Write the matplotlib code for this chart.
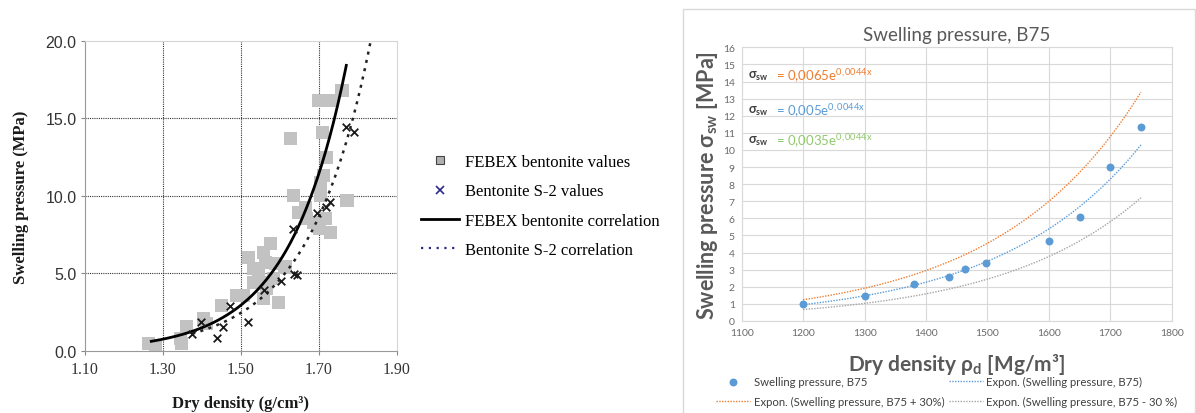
import numpy as np
import matplotlib.pyplot as plt
from matplotlib.lines import Line2D
from matplotlib.patches import Rectangle

# ---------------- left panel data: FEBEX and S-2 bentonite ----------------
febex_rho = [1.263, 1.281, 1.344, 1.348, 1.361, 1.404, 1.412, 1.451, 1.489, 1.506,
             1.519, 1.532, 1.532, 1.545, 1.558, 1.562, 1.575, 1.566, 1.583, 1.588,
             1.596, 1.613, 1.626, 1.635, 1.648, 1.665, 1.669, 1.686, 1.699, 1.703,
             1.701, 1.708, 1.712, 1.716, 1.720, 1.729, 1.733, 1.759, 1.772, 1.703,
             1.552, 1.558]
febex_p = [0.47, 0.26, 0.79, 0.47, 1.55, 2.08, 1.76, 2.94, 3.58, 3.58,
           6.05, 5.30, 4.44, 4.87, 6.37, 5.73, 6.91, 4.01, 4.66, 5.62,
           3.15, 5.41, 13.67, 10.02, 8.95, 9.27, 8.52, 8.30, 16.14, 10.02,
           7.88, 14.10, 11.31, 8.52, 12.49, 7.66, 16.14, 16.78, 9.70, 10.88,
           4.40, 3.37]

s2_rho = [1.374, 1.398, 1.438, 1.455, 1.472, 1.519, 1.558, 1.602, 1.633, 1.637,
          1.643, 1.696, 1.719, 1.729, 1.768, 1.790]
s2_p = [1.12, 1.87, 0.84, 1.55, 2.88, 1.87, 3.91, 4.48, 7.88, 4.98,
        4.87, 8.91, 9.31, 9.59, 14.42, 14.14]

# exponential correlations ln(Ps) = a * rho_d + b
febex_corr = (6.77, -9.07)
febex_corr_range = (1.27, 1.77)
s2_corr = (6.30, -8.55)
s2_corr_range = (1.375, 1.845)

left_xticks = [1.10, 1.30, 1.50, 1.70, 1.90]
left_yticks = [0.0, 5.0, 10.0, 15.0, 20.0]

# ---------------- right panel data: B75 ----------------
b75_rho = [1200, 1300, 1380, 1437, 1463, 1497, 1600, 1650, 1700, 1750]
b75_p = [1.00, 1.45, 2.15, 2.60, 3.05, 3.40, 4.70, 6.10, 9.00, 11.35]
band_factors = [1.0, 1.3, 0.7]
eq_coeffs = ["0,0065", "0,005", "0,0035"]
eq_exp = "0,0044x"

SERIF = "Liberation Serif"
SANS = "Liberation Sans"
XL = "Lato"

plt.rcParams["mathtext.fontset"] = "custom"
plt.rcParams["mathtext.rm"] = "Lato:bold"
plt.rcParams["mathtext.bf"] = "Lato:bold"
plt.rcParams["mathtext.sf"] = "Lato"
plt.rcParams["mathtext.it"] = "Lato:italic"

fig = plt.figure(figsize=(11.96, 4.14), dpi=100)
W, H = 1196.0, 414.0


def fax(x0, y0, x1, y1):
    return [x0 / W, 1 - y1 / H, (x1 - x0) / W, (y1 - y0) / H]


# ======================= left panel =======================
ax = fig.add_axes(fax(85, 41.7, 397, 352))
ax.set_xlim(1.10, 1.90)
ax.set_ylim(0, 20)

ax.scatter(febex_rho, febex_p, marker="s", s=90, color="#c2c2c2",
           edgecolors="none", zorder=2)
ax.scatter(s2_rho, s2_p, marker="x", s=30, color="#1a1a1a", linewidths=1.3,
           zorder=4)

r = np.linspace(*febex_corr_range, 200)
ax.plot(r, np.exp(febex_corr[0] * r + febex_corr[1]), color="black", lw=2.0,
        zorder=3)
r2 = np.linspace(*s2_corr_range, 200)
ax.plot(r2, np.exp(s2_corr[0] * r2 + s2_corr[1]), color="#222222", lw=1.8,
        linestyle=(0, (1.2, 2.2)), zorder=3)

ax.set_xticks(left_xticks)
ax.set_xticklabels([f"{v:.2f}" for v in left_xticks], fontfamily=SERIF,
                   fontsize=11.5, color="#333333")
ax.set_yticks(left_yticks)
ax.set_yticklabels([f"{v:.1f}" for v in left_yticks], fontfamily=SANS,
                   fontsize=11.5, color="#333333")
ax.tick_params(axis="both", length=3, color="#888888", pad=3)
ax.tick_params(axis="x", pad=4)
for t in left_xticks[1:-1]:
    ax.axvline(t, color="#333333", lw=0.8, linestyle=(0, (1, 1)), zorder=1)
for t in left_yticks[1:-1]:
    ax.axhline(t, color="#333333", lw=0.8, linestyle=(0, (1, 1)), zorder=1)
for s in ["left", "bottom"]:
    ax.spines[s].set_color("#999999")
    ax.spines[s].set_linewidth(0.8)
for s in ["top", "right"]:
    ax.spines[s].set_color("#d6d6d6")
    ax.spines[s].set_linewidth(0.8)

ax.set_xlabel("Dry density (g/cm³)", fontfamily=SERIF, fontweight="bold",
              fontsize=12, labelpad=13, color="#1a1a1a")
ax.set_ylabel("Swelling pressure (MPa)", fontfamily=SERIF, fontweight="bold",
              fontsize=12, labelpad=12, color="#1a1a1a")

left_handles = [
    Line2D([], [], marker="s", linestyle="none", markersize=6,
           markerfacecolor="#b0b0b0", markeredgecolor="#444444", markeredgewidth=0.8),
    Line2D([], [], marker="x", linestyle="none", markersize=6,
           color="#2a2a8a", markeredgewidth=1.2),
    Line2D([], [], color="black", lw=2.0),
    Line2D([], [], color="#2a2a8a", lw=1.6, linestyle=(0, (1, 2.5))),
]
left_labels = ["FEBEX bentonite values", "Bentonite S-2 values",
               "FEBEX bentonite correlation", "Bentonite S-2 correlation"]
fig.legend(left_handles, left_labels, loc="upper left",
           bbox_to_anchor=(421 / W, 1 - 155 / H), frameon=False,
           prop={"family": SERIF, "size": 12}, handlelength=2.3,
           handletextpad=0.35, labelspacing=0.8, borderpad=0,
           borderaxespad=0)

# ======================= right panel =======================
fig.add_artist(Rectangle((683 / W, -0.05), (1195 - 683) / W, 1 - 10 / H + 0.05,
                         transform=fig.transFigure, fill=False,
                         edgecolor="#d9d9d9", lw=1.0))

bx = fig.add_axes(fax(741.7, 48.3, 1171.7, 322))
bx.set_xlim(1100, 1800)
bx.set_ylim(0, 16)
bx.set_xticks(range(1100, 1801, 100))
bx.set_yticks(range(0, 17))
bx.grid(True, color="#d9d9d9", lw=0.8)
bx.set_axisbelow(True)
for s in bx.spines.values():
    s.set_color("#d9d9d9")
    s.set_linewidth(0.8)
bx.tick_params(axis="both", length=0, labelsize=7.5, labelcolor="#6a6a6a",
               pad=5)
for lab in bx.get_xticklabels() + bx.get_yticklabels():
    lab.set_fontfamily(XL)

coef = np.polyfit(b75_rho, np.log(b75_p), 1)
xr = np.linspace(min(b75_rho), max(b75_rho), 200)
trend = np.exp(np.polyval(coef, xr))
band_colors = ["#5b9bd5", "#ed7d31", "#a5a5a5"]
band_labels = ["Expon. (Swelling pressure, B75)",
               "Expon. (Swelling pressure, B75 + 30%)",
               "Expon. (Swelling pressure, B75 - 30 %)"]
band_lines = []
for f, c, lab in zip(band_factors, band_colors, band_labels):
    ln, = bx.plot(xr, f * trend, color=c, lw=1.0, linestyle=(0, (1, 1)),
                  label=lab)
    band_lines.append(ln)
pts = bx.scatter(b75_rho, b75_p, s=22, color="#5b9bd5", zorder=3,
                 label="Swelling pressure, B75")

bx.set_title("Swelling pressure, B75", fontfamily=XL, fontsize=13.5,
             color="#595959", pad=5)
bx.set_ylabel(r"Swelling pressure σ$_{\mathrm{sw}}$ [MPa]", fontfamily=[XL, "DejaVu Sans"],
              fontweight="bold", fontsize=15.5, color="#595959", labelpad=2)
bx.set_xlabel(r"Dry density ρ$_{\mathrm{d}}$ [Mg/m³]", fontfamily=[XL, "DejaVu Sans"],
              fontweight="bold", fontsize=15, color="#595959", labelpad=10)

eq_colors = ["#ed7d31", "#5b9bd5", "#8fc96b"]
eq_y = [14.35, 12.3, 10.55]
for cf, c, yy in zip(eq_coeffs, eq_colors, eq_y):
    bx.text(1110, yy, r"σ$_{\mathrm{sw}}$", fontfamily=[XL, "DejaVu Sans"],
            fontweight="bold", fontsize=9, color="#404040", va="center")
    bx.text(1156, yy, f"= {cf}e" + r"$^{\mathsf{" + eq_exp + "}}$",
            fontfamily=XL, fontsize=9.5, color=c, va="center")

fig.legend([pts, band_lines[1], band_lines[0], band_lines[2]],
           ["Swelling pressure, B75", band_labels[1], band_labels[0], band_labels[2]],
           ncol=2, loc="upper left", bbox_to_anchor=(716 / W, 1 - 377 / H),
           frameon=False, prop={"family": XL, "size": 8.2},
           labelcolor="#404040", handlelength=3.0, handletextpad=0.3,
           columnspacing=0.4, labelspacing=0.75, borderpad=0, borderaxespad=0)

fig.savefig("out.png", dpi=100)
